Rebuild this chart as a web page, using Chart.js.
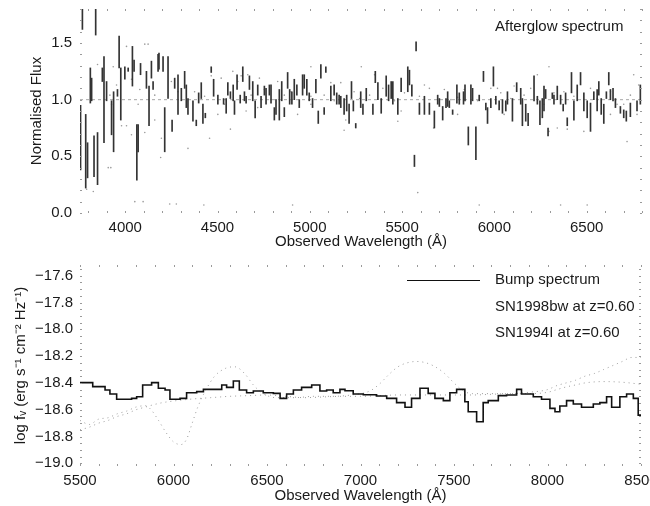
<!DOCTYPE html>
<html><head><meta charset="utf-8">
<script src="https://cdn.jsdelivr.net/npm/chart.js@4.4.1/dist/chart.umd.min.js"></script>
<style>
html,body{margin:0;padding:0;background:#fff;}
#wrap{position:relative;width:650px;height:506px;overflow:hidden;background:#fff;}
canvas{position:absolute;left:0;}
#c1{top:0;} #c2{top:250px;}
</style></head><body>
<div id="wrap"><canvas id="c1" width="650" height="256"></canvas><canvas id="c2" width="650" height="256"></canvas></div>
<script>
// ---------- Top panel: afterglow spectrum (error bars) ----------
const agWave = [3758,3768,3786,3796,3811,3818,3831,3840,3850,3876,3885,3899,3926,3937,3958,3967,3976,3998,4016,4039,4048,4063,4070,4083,4115,4129,4142,4151,4178,4183,4205,4214,4232,4254,4268,4286,4304,4322,4331,4340,4367,4385,4398,4412,4421,4434,4466,4479,4502,4533,4547,4556,4570,4585,4592,4606,4623,4637,4646,4655,4673,4691,4704,4718,4736,4754,4763,4781,4790,4808,4817,4835,4848,4862,4880,4891,4903,4916,4930,4943,4961,4970,4984,4997,5015,5033,5046,5060,5078,5087,5114,5132,5146,5159,5168,5186,5200,5213,5226,5236,5249,5276,
5288,5306,5342,5355,5369,5387,5414,5427,5441,5450,5477,5495,5531,5540,5553,5567,5576,5594,5621,5648,5675,5693,5702,5720,5738,5747,5756,5774,5797,5810,5833,5841,5859,5873,5882,5900,5918,5941,5954,5963,5981,5995,6008,6026,6044,6062,6071,6098,6121,6143,6152,6170,6183,6215,6233,6247,6260,6269,6278,6291,6314,6323,6341,6359,6373,6386,6395,6418,6431,6449,6467,6485,6503,6521,6539,6557,6566,6579,6593,6607,6620,6629,6643,6656,6683,6701,6715,6737,6773,6791];
const agLow = [0.38,1.62,0.22,0.31,0.97,0.99,0.32,1.57,0.25,1.16,0.62,0.99,0.69,0.54,1.03,1.28,0.82,1.18,1.25,1.12,1.25,0.29,0.54,1.22,1.10,0.77,1.19,1.09,1.25,1.27,1.25,0.54,1.01,0.72,1.10,0.87,0.99,1.10,0.93,0.87,0.81,0.77,0.97,1.01,0.79,0.84,1.24,1.03,0.96,0.96,0.88,1.04,1.01,0.99,0.87,1.09,0.97,1.16,0.99,0.97,1.09,0.99,0.84,1.04,0.93,1.04,0.96,1.04,0.97,0.82,0.87,0.82,0.99,0.85,1.10,0.96,0.96,1.00,1.04,0.93,1.04,1.10,1.04,0.99,0.93,1.06,0.79,1.19,0.87,1.24,0.99,1.04,0.96,0.96,0.93,0.87,0.90,0.79,1.01,0.90,0.75,0.93,
0.87,0.99,0.87,1.15,1.00,0.88,1.03,0.99,1.01,0.96,0.87,1.07,1.07,1.13,1.03,0.41,1.43,0.87,0.87,0.87,0.75,0.96,0.94,0.82,0.93,0.94,0.93,0.87,0.97,0.96,0.96,0.99,0.60,0.96,0.99,0.47,0.99,1.16,0.91,0.79,0.93,1.12,0.96,0.91,0.88,0.90,0.96,0.81,1.07,0.96,0.77,0.81,0.77,0.99,0.96,0.78,0.84,0.90,1.01,0.68,1.01,0.96,1.00,0.96,0.90,0.96,0.77,1.06,0.82,0.99,1.13,0.90,0.84,0.72,1.00,0.90,1.04,0.87,0.79,1.01,1.13,1.00,0.99,0.93,0.88,0.84,0.81,0.85,0.90,0.96];
const agHigh = [0.95,1.90,0.87,0.62,1.28,1.19,0.68,1.95,0.71,1.28,1.38,1.16,0.99,1.07,1.09,1.56,1.28,1.29,1.28,1.47,1.35,0.78,0.78,1.32,1.25,1.12,1.34,1.16,1.40,1.41,1.38,0.93,1.38,0.82,1.19,1.22,1.10,1.25,1.13,1.01,0.99,0.82,1.06,1.15,0.96,0.88,1.29,1.18,1.04,1.01,1.01,1.15,1.07,1.13,0.99,1.22,1.04,1.29,1.07,1.03,1.21,1.16,0.99,1.13,1.03,1.12,1.10,1.13,1.13,0.93,1.00,1.09,1.16,0.93,1.24,1.09,1.07,1.18,1.13,1.00,1.22,1.22,1.18,1.06,1.01,1.18,0.90,1.31,0.93,1.29,1.12,1.13,1.06,1.04,1.03,1.01,1.04,0.96,1.16,0.99,0.79,1.07,
0.96,1.10,0.96,1.25,1.15,1.01,1.21,1.13,1.16,1.16,1.01,1.19,1.29,1.26,1.13,0.51,1.51,0.97,1.03,0.97,0.90,1.04,1.01,0.94,1.01,1.07,0.99,0.91,1.13,1.06,1.07,1.13,0.76,1.13,1.10,0.76,1.04,1.25,0.97,0.93,1.01,1.29,1.03,0.99,1.00,0.99,1.07,1.01,1.15,1.10,1.01,0.96,0.88,1.21,1.03,0.99,1.01,1.12,1.09,0.75,1.06,1.04,1.12,1.04,0.96,1.06,0.84,1.24,0.99,1.13,1.24,1.06,0.99,0.97,1.07,1.09,1.16,1.01,0.96,1.07,1.24,1.09,1.10,1.01,0.94,0.91,0.90,0.97,0.99,1.13];
// scattered data points (dots)
const dotWave = [3791,3827,3908,3922,3980,4007,4034,4052,4097,4106,4160,4196,4192,4241,4277,4340,4426,4457,4570,4907,5186,4007,4106,4124,3935,3850,4034,3917,3953,4079,4160,4250,4376,4466,4520,4583,4628,4664,4727,4754,4826,4862,5006,5078,5114,5168,5195,4502,4655,4718,4934,5006,5078,3926,4070,
4286,4430,4538,4610,4682,4790,4898,5006,5132,5240,
5279,5351,5477,5671,6296,6233,6719,6755,6782,6395,6296,5918,6359,6503,5585,5621,5729,5801,6017,6107,6197,6323,6521,6629,6701,5495,5801,6053,6341,6485,6629,
5270,5324,5396,5459,5513,5594,5648,5765,5837,5909,5981,6035,6089,6161,6269,6377,6431,6557,6665,6737,6773];
const dotFlux = [0.21,0.19,0.40,0.40,0.77,0.77,0.69,0.10,0.10,0.71,0.82,0.66,0.49,0.08,0.08,0.57,0.07,0.66,0.74,0.07,0.73,1.47,1.49,1.49,1.29,1.31,1.18,1.04,1.13,1.09,1.04,1.16,1.07,1.21,1.19,1.25,1.21,1.22,1.19,1.09,1.16,1.04,1.29,1.04,1.15,1.15,0.82,0.87,0.90,0.93,0.87,0.96,0.90,0.96,0.96,
1.07,1.03,0.96,1.16,1.04,1.00,1.07,1.03,0.99,1.07,
1.29,1.22,0.81,0.75,1.29,1.22,0.63,1.22,1.13,0.74,0.72,0.07,0.07,0.07,0.18,1.13,1.09,1.02,1.10,1.12,1.10,1.06,1.10,1.07,0.96,0.90,0.87,0.87,0.75,0.72,0.87,
1.01,1.04,1.10,0.99,1.06,1.03,1.10,1.00,1.09,0.99,1.10,1.06,1.01,1.04,0.96,1.07,1.03,1.01,0.96,1.04,0.87];
const refLevel = 1.0;
const topXTicks = [4000,4500,5000,5500,6000,6500];
const topYTicks = [0.0,0.5,1.0,1.5];

// ---------- Bottom panel: bump spectrum and SN templates ----------
const bumpWave = [5500,5568,5634,5660,5696,5776,5803,5835,5883,5919,5955,5981,6035,6070,6124,6160,6258,6284,6320,6352,6391,6427,6480,6534,6570,6605,6641,6685,6739,6783,6819,6854,6890,6917,6961,7015,7086,7140,7193,7238,7273,7318,7362,7398,7443,7478,7514,7558,7576,7621,7656,7683,7737,7781,7835,7861,7924,7968,8013,8040,8066,8102,8138,8182,8245,8280,8316,8343,8387,8423,8459,8485,8500];
const bumpFlux = [-18.398,-18.428,-18.453,-18.483,-18.522,-18.515,-18.503,-18.416,-18.398,-18.440,-18.453,-18.522,-18.515,-18.473,-18.465,-18.448,-18.416,-18.433,-18.386,-18.453,-18.473,-18.460,-18.473,-18.478,-18.515,-18.483,-18.453,-18.433,-18.416,-18.460,-18.453,-18.473,-18.448,-18.458,-18.483,-18.488,-18.498,-18.515,-18.547,-18.582,-18.515,-18.440,-18.478,-18.515,-18.532,-18.473,-18.448,-18.540,-18.615,-18.690,-18.547,-18.532,-18.495,-18.490,-18.448,-18.483,-18.503,-18.522,-18.590,-18.615,-18.572,-18.532,-18.557,-18.582,-18.557,-18.547,-18.503,-18.582,-18.503,-18.483,-18.515,-18.640,-18.640];
const bwWave = [5500,5550,5600,5650,5700,5750,5800,5850,5900,5950,6000,6100,6200,6300,6400,6500,6600,6700,6800,6900,7000,7100,7200,7300,7400,7500,7600,7700,7800,7900,8000,8050,8100,8150,8200,8300,8400,8500];
const bwFlux = [-18.75,-18.73,-18.70,-18.68,-18.65,-18.63,-18.60,-18.58,-18.56,-18.545,-18.535,-18.52,-18.51,-18.50,-18.495,-18.49,-18.50,-18.51,-18.505,-18.50,-18.50,-18.495,-18.49,-18.49,-18.49,-18.49,-18.49,-18.485,-18.48,-18.48,-18.47,-18.45,-18.43,-18.415,-18.40,-18.39,-18.395,-18.41];
const icWave = [5500,5550,5600,5650,5700,5750,5800,5850,5880,5920,5960,6000,6040,6070,6100,6130,6170,6220,6280,6330,6380,6430,6480,6550,6650,6750,6850,6950,7050,7100,7150,7200,7250,7300,7350,7400,7450,7500,7550,7600,7700,7800,7900,8000,8050,8100,8150,8200,8250,8300,8350,8400,8450,8500];
const icFlux = [-18.68,-18.71,-18.67,-18.66,-18.63,-18.61,-18.58,-18.57,-18.60,-18.68,-18.77,-18.84,-18.86,-18.82,-18.70,-18.58,-18.46,-18.35,-18.29,-18.28,-18.33,-18.42,-18.48,-18.51,-18.51,-18.50,-18.50,-18.49,-18.46,-18.41,-18.34,-18.28,-18.25,-18.24,-18.25,-18.28,-18.33,-18.40,-18.46,-18.48,-18.48,-18.48,-18.47,-18.45,-18.42,-18.40,-18.38,-18.35,-18.33,-18.30,-18.27,-18.24,-18.21,-18.21];
const botXTicks = [5500,6000,6500,7000,7500,8000,8500];
const botYTicks = [-17.6,-17.8,-18.0,-18.2,-18.4,-18.6,-18.8,-19.0];
const legendLabels = ['Bump spectrum','SN1998bw at z=0.60','SN1994I at z=0.60'];

// ---------- shared styling ----------
const FONT = "'Liberation Sans', Arial, Helvetica, sans-serif";
const INK = '#1a1a1a';
Chart.defaults.font.family = FONT;
Chart.defaults.font.size = 15;
Chart.defaults.color = INK;

function fixedTicks(list){ return s => { s.ticks = list.map(v => ({value:v})); }; }
function yFit(w){ return s => { s.width = w; s.paddingTop = 0; s.paddingBottom = 0; }; }
function xFit(h){ return s => { s.height = h; s.paddingLeft = 0; s.paddingRight = 0; }; }

function framePlugin(xStep, yStep){
  return {
    id:'frame',
    afterDatasetsDraw(chart){
      const {ctx, chartArea:a, scales:{x, y}} = chart;
      ctx.save();
      ctx.fillStyle = '#9a9a9a';
      for (let v = Math.ceil(x.min/xStep)*xStep; v <= x.max + 1e-6; v += xStep){
        const px = Math.round(x.getPixelForValue(v));
        ctx.fillRect(px, Math.round(a.top), 1, 2);
        ctx.fillRect(px, Math.round(a.bottom)-2, 1, 2);
      }
      const n0 = Math.ceil(y.min/yStep - 1e-6), n1 = Math.floor(y.max/yStep + 1e-6);
      for (let n = n0; n <= n1; n++){
        const py = Math.round(y.getPixelForValue(n*yStep));
        ctx.fillRect(Math.round(a.left), py, 2, 1);
        ctx.fillRect(Math.round(a.right)-2, py, 2, 1);
      }
      ctx.restore();
    }
  };
}

// ---------- top chart ----------
new Chart(document.getElementById('c1'), {
  type: 'bar',
  data: { datasets: [
    { type:'line', data:[{x:3755,y:refLevel},{x:6800,y:refLevel}], borderColor:'#a8a8a8', borderWidth:1, borderDash:[3,3], pointRadius:0, order:3 },
    { type:'scatter', data: dotWave.map((w,i)=>({x:w,y:dotFlux[i]})), pointRadius:0.8, pointBackgroundColor:'#9a9a9a', pointBorderWidth:0, order:2 },
    { type:'bar', data: agWave.map((w,i)=>({x:w,y:[agLow[i],agHigh[i]]})), backgroundColor:'#333', borderWidth:0, barThickness:1, grouped:false, order:1 }
  ]},
  options: {
    responsive:false, animation:false, devicePixelRatio:1,
    layout:{ padding:{ left:0, right:8, top:9, bottom:0 } },
    plugins:{ legend:{display:false}, tooltip:{enabled:false} },
    scales:{
      x:{ type:'linear', min:3755, max:6800, offset:false,
          grid:{display:false, drawTicks:false, offset:false}, border:{display:false},
          afterBuildTicks: fixedTicks(topXTicks), afterFit: xFit(43),
          ticks:{ padding:6, maxRotation:0, autoSkip:false, callback:v=>String(v) },
          title:{ display:true, text:'Observed Wavelength (Å)', padding:{top:0,bottom:5} } },
      y:{ min:0, max:1.8,
          grid:{display:false, drawTicks:false}, border:{display:false},
          afterBuildTicks: fixedTicks(topYTicks), afterFit: yFit(80),
          ticks:{ padding:8, callback:v=>Number(v).toFixed(1) },
          title:{ display:true, text:'Normalised Flux', padding:{top:28,bottom:0} } }
    }
  },
  plugins:[ framePlugin(100, 0.1), {
    id:'label1',
    afterDraw(chart){
      const ctx = chart.ctx; ctx.save();
      ctx.font = '15px ' + FONT; ctx.fillStyle = INK; ctx.textBaseline = 'middle'; ctx.textAlign = 'left';
      ctx.fillText('Afterglow spectrum', 495, 27);
      ctx.restore();
    }
  }]
});

// ---------- bottom chart ----------
new Chart(document.getElementById('c2'), {
  type: 'line',
  data: { datasets: [
    { data: bumpWave.map((w,i)=>({x:w,y:bumpFlux[i]})), stepped:'before', borderColor:'#111', borderWidth:1.6, pointRadius:0, order:1 },
    { data: bwWave.map((w,i)=>({x:w,y:bwFlux[i]})), borderColor:'#9c9c9c', borderWidth:1, borderDash:[1,4], pointRadius:0, cubicInterpolationMode:'monotone', order:2 },
    { data: icWave.map((w,i)=>({x:w,y:icFlux[i]})), borderColor:'#9c9c9c', borderWidth:1, borderDash:[1,4], pointRadius:0, cubicInterpolationMode:'monotone', order:3 }
  ]},
  options: {
    responsive:false, animation:false, devicePixelRatio:1,
    layout:{ padding:{ left:0, right:9, top:15, bottom:0 } },
    plugins:{ legend:{display:false}, tooltip:{enabled:false} },
    scales:{
      x:{ type:'linear', min:5500, max:8500,
          grid:{display:false, drawTicks:false}, border:{display:false},
          afterBuildTicks: fixedTicks(botXTicks), afterFit: xFit(40),
          ticks:{ padding:6, maxRotation:0, autoSkip:false, callback:v=>String(v) },
          title:{ display:true, text:'Observed Wavelength (Å)', padding:{top:0,bottom:1} } },
      y:{ min:-19.02, max:-17.52,
          grid:{display:false, drawTicks:false}, border:{display:false},
          afterBuildTicks: fixedTicks(botYTicks), afterFit: yFit(80),
          ticks:{ padding:7, callback:v=>'\u2212' + Math.abs(v).toFixed(1) },
          title:{ display:true, text:'log f\u1D65 (erg s\u207B\u00B9 cm\u207B\u00B2 Hz\u207B\u00B9)', padding:{top:12,bottom:0} } }
    }
  },
  plugins:[ framePlugin(100, 0.05), {
    id:'legend2',
    afterDraw(chart){
      const ctx = chart.ctx; ctx.save();
      ctx.strokeStyle = '#111'; ctx.lineWidth = 1;
      ctx.beginPath(); ctx.moveTo(407, 30.5); ctx.lineTo(480, 30.5); ctx.stroke();
      ctx.font = '15px ' + FONT; ctx.fillStyle = INK; ctx.textBaseline = 'middle'; ctx.textAlign = 'left';
      const ys = [30, 56.5, 83];
      legendLabels.forEach((t,i)=>ctx.fillText(t, 495, ys[i]));
      ctx.restore();
    }
  }]
});
</script>
</body></html>
